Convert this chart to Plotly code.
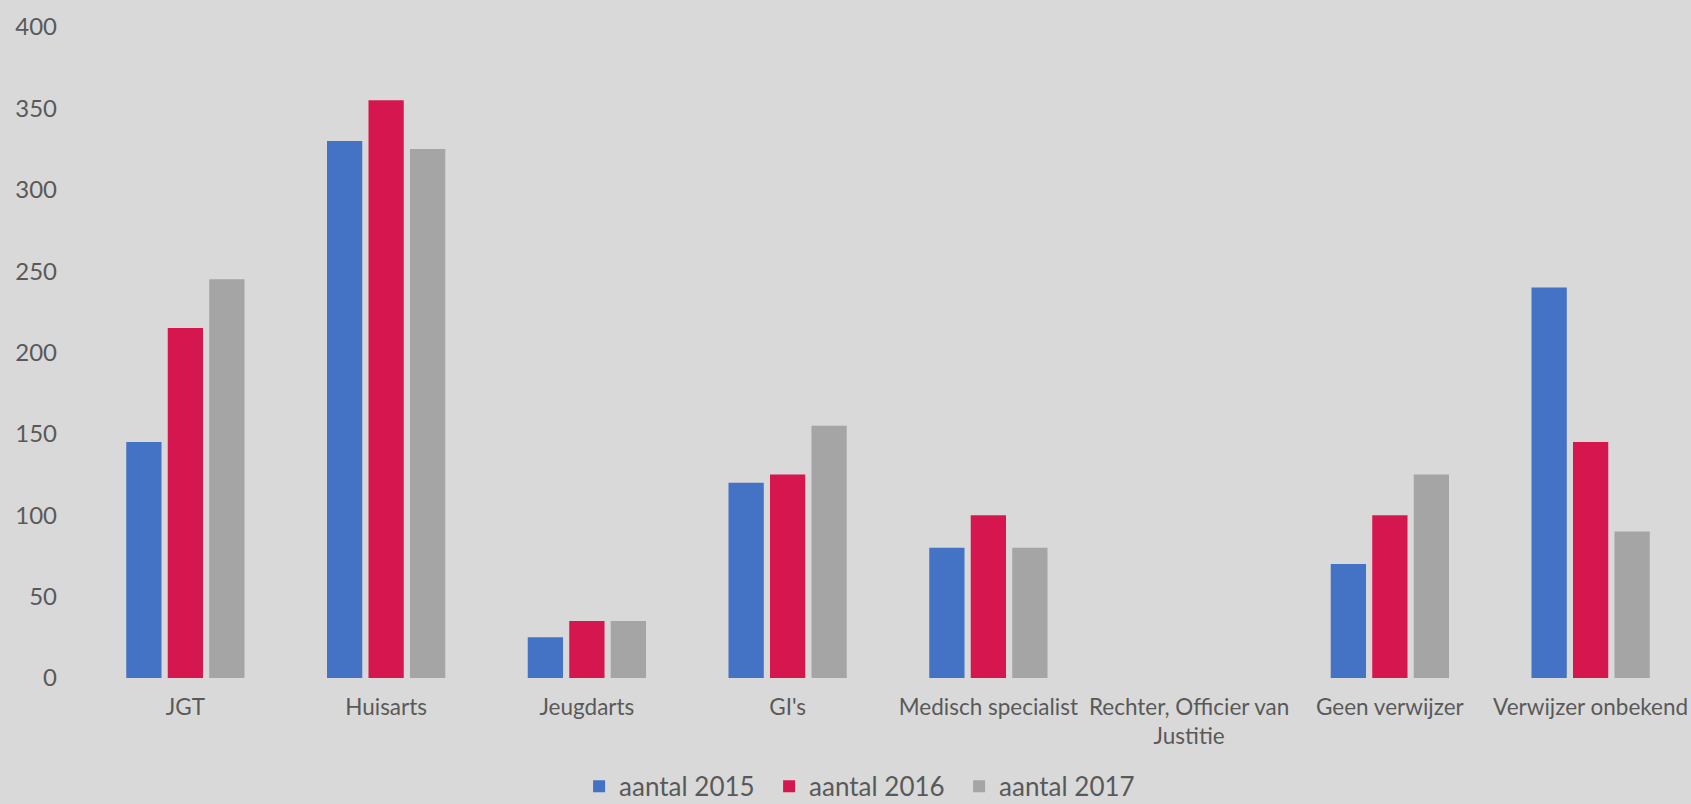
import plotly.graph_objects as go

categories = ["JGT", "Huisarts", "Jeugdarts", "GI's", "Medisch specialist",
              "Rechter, Officier van<br>Justitie", "Geen verwijzer", "Verwijzer onbekend"]
aantal_2015 = [145, 330, 25, 120, 80, 0, 70, 240]
aantal_2016 = [215, 355, 35, 125, 100, 0, 100, 145]
aantal_2017 = [245, 325, 35, 155, 80, 0, 125, 90]
y_ticks = [0, 50, 100, 150, 200, 250, 300, 350, 400]

series = [("aantal 2015", aantal_2015, "#4472C4"),
          ("aantal 2016", aantal_2016, "#D6174F"),
          ("aantal 2017", aantal_2017, "#A5A5A5")]

fig = go.Figure()
for name, vals, col in series:
    fig.add_trace(go.Bar(x=categories, y=vals, name=name,
                         marker=dict(color=col, line=dict(width=0))))

font_family = "Lato, 'Open Sans', sans-serif"
fig.update_layout(
    width=1691, height=804,
    paper_bgcolor="#D9D9D9", plot_bgcolor="#D9D9D9",
    margin=dict(l=85, r=0, t=27, b=126, autoexpand=False),
    barmode="group", bargap=0.38, bargroupgap=0.15,
    font=dict(family=font_family, color="#595959"),
    showlegend=True,
    legend=dict(orientation="h", xref="container", x=0.511, xanchor="center",
                yref="container", y=0.022, yanchor="middle",
                font=dict(size=26, color="#595959"), itemwidth=30,
                entrywidth=145,
                bgcolor="rgba(0,0,0,0)"),
    xaxis=dict(showgrid=False, showline=False, zeroline=False, ticks="",
               tickfont=dict(size=22.5, color="#595959"), tickangle=0,
               ticklabelstandoff=13, automargin=False),
    yaxis=dict(range=[0, 400], tickvals=y_ticks, showgrid=False, zeroline=False,
               showline=False, ticks="", tickfont=dict(size=24, color="#595959"),
               ticklabelstandoff=27, automargin=False),
)

fig.write_html("out.html", config={"displayModeBar": False},
               post_script="document.body.style.margin='0';document.body.style.overflow='hidden';")
